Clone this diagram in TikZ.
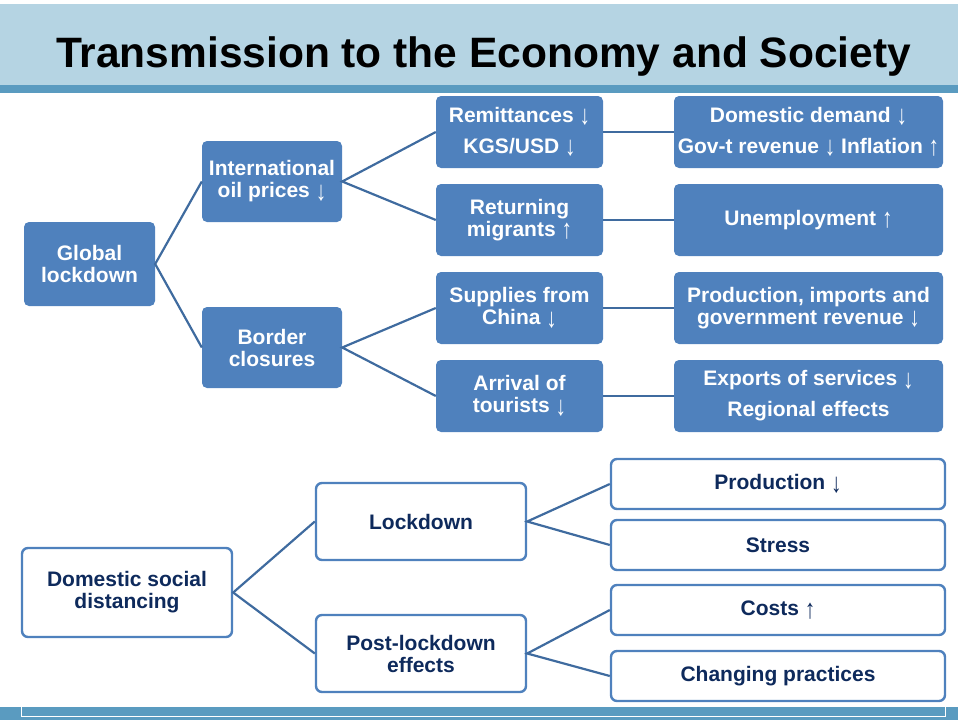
\documentclass[tikz,border=0pt]{standalone}
\usepackage{fontspec}
\usepackage{graphicx}
\setmainfont{Liberation Sans}
\newfontfamily\arrowfont{Liberation Sans}
\newcommand{\dnar}{\raisebox{-0.12em}{\scalebox{1}[1.3]{\arrowfont\mdseries ↓}}}
\newcommand{\uparr}{\raisebox{-0.12em}{\scalebox{1}[1.3]{\arrowfont\mdseries ↑}}}
\definecolor{hdrlight}{HTML}{B5D4E3}
\definecolor{hdrband}{HTML}{5A9BC0}
\definecolor{boxblue}{HTML}{4F81BD}
\definecolor{linkblue}{HTML}{3F6B9F}
\definecolor{navytxt}{HTML}{0E2A5C}
\tikzset{
  fillbox/.style={fill=boxblue, draw=none, rounded corners=5pt, text=white,
    font=\bfseries\fontsize{21}{22}\selectfont, align=center, inner sep=0pt},
  outbox/.style={fill=white, draw=boxblue, line width=2.4pt, rounded corners=6pt, text=navytxt,
    font=\bfseries\fontsize{21}{22}\selectfont, align=center, inner sep=0pt},
  link/.style={draw=linkblue, line width=2.2pt},
}
\begin{document}
\begin{tikzpicture}[x=1pt,y=-1pt]
\useasboundingbox (0,0) rectangle (958,720);
% header
\fill[hdrlight] (0,4) rectangle (958,85);
\fill[hdrband] (0,85) rectangle (958,93);
\node[anchor=base, font=\bfseries\fontsize{42.5}{44}\selectfont] (title) at (483.5,67) {Transmission to the Economy and Society};
% footer
\fill[hdrband] (0,707) rectangle (958,720);
\draw[white, line width=1pt] (21,707) -- (21,716) -- (945.5,716) -- (945.5,707);

% top section
\node[fillbox, minimum width=131pt, minimum height=84pt] (gl) at (89.5,264) {Global\\lockdown};
\node[fillbox, minimum width=140pt, minimum height=81pt] (ip) at (272,181.5) {International\\oil prices \dnar};
\node[fillbox, minimum width=140pt, minimum height=81pt] (bc) at (272,347.5) {Border\\closures};
\node[fillbox, minimum width=167pt, minimum height=72pt] (rem) at (519.5,132) {Remittances \dnar\\[9pt]KGS/USD \dnar};
\node[fillbox, minimum width=167pt, minimum height=72pt] (ret) at (519.5,220) {Returning\\migrants \uparr};
\node[fillbox, minimum width=167pt, minimum height=72pt] (sup) at (519.5,308) {Supplies from\\China \dnar};
\node[fillbox, minimum width=167pt, minimum height=72pt] (arr) at (519.5,396) {Arrival of\\tourists \dnar};
\node[fillbox, minimum width=269pt, minimum height=72pt] (dd) at (808.5,132) {Domestic demand \dnar\\[9pt]Gov-t revenue \dnar{} Inflation \uparr};
\node[fillbox, minimum width=269pt, minimum height=72pt] (un) at (808.5,220) {Unemployment \uparr};
\node[fillbox, minimum width=269pt, minimum height=72pt] (pi) at (808.5,308) {Production, imports and\\government revenue \dnar};
\node[fillbox, minimum width=269pt, minimum height=72pt] (ex) at (808.5,396) {Exports of services \dnar\\[9pt]Regional effects};

\draw[link] (ip.west) -- (gl.east) -- (bc.west);
\draw[link] (rem.west) -- (ip.east) -- (ret.west);
\draw[link] (sup.west) -- (bc.east) -- (arr.west);
\draw[link] (rem.east) -- (dd.west);
\draw[link] (ret.east) -- (un.west);
\draw[link] (sup.east) -- (pi.west);
\draw[link] (arr.east) -- (ex.west);

% bottom section
\node[outbox, minimum width=210pt, minimum height=89pt] (dsd) at (127,592.5) {Domestic social\\distancing};
\node[outbox, minimum width=210pt, minimum height=77pt] (lock) at (421,521.5) {Lockdown};
\node[outbox, minimum width=210pt, minimum height=77pt] (post) at (421,653.5) {Post-lockdown\\effects};
\node[outbox, minimum width=334pt, minimum height=50pt] (prod) at (778,484) {Production \dnar};
\node[outbox, minimum width=334pt, minimum height=50pt] (stress) at (778,545) {Stress};
\node[outbox, minimum width=334pt, minimum height=50pt] (costs) at (778,610) {Costs \uparr};
\node[outbox, minimum width=334pt, minimum height=50pt] (chg) at (778,676) {Changing practices};

\draw[link] (lock.west) -- (dsd.east) -- (post.west);
\draw[link] (prod.west) -- (lock.east) -- (stress.west);
\draw[link] (costs.west) -- (post.east) -- (chg.west);
\end{tikzpicture}
\end{document}
